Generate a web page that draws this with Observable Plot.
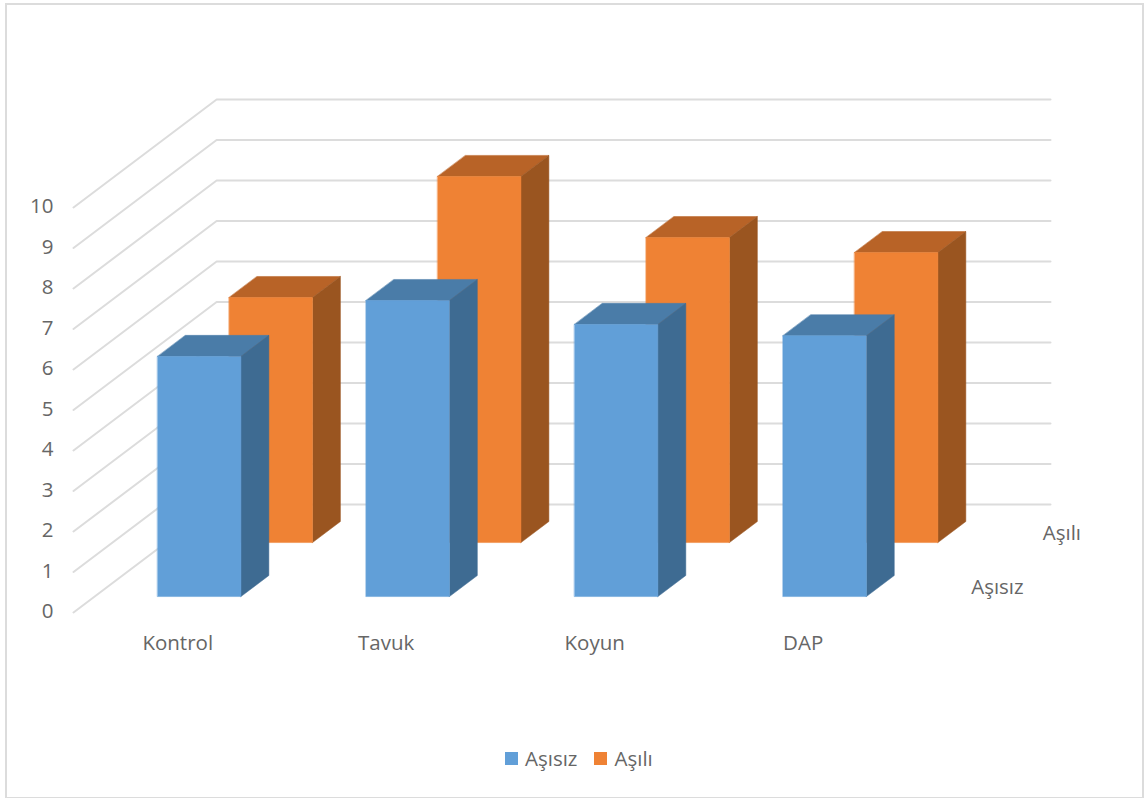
<!DOCTYPE html>
<html lang="tr">
<head>
<meta charset="utf-8">
<title>Aşısız ve Aşılı</title>
<script src="https://cdn.jsdelivr.net/npm/d3@7"></script>
<script src="https://cdn.jsdelivr.net/npm/@observablehq/plot@0.6"></script>
<style>
  html, body { margin: 0; padding: 0; background: #fff; }
  #chart { position: relative; width: 1144px; height: 798px; overflow: hidden; font-family: "Open Sans", sans-serif; }
  #chart svg { position: absolute; left: 0; top: 0; }
  #border { position: absolute; left: 5px; top: 3px; width: 1135px; height: 792px; border: 2px solid #dcdcdc; box-sizing: content-box; }
  #legend { position: absolute; left: 505px; top: 745px; display: flex; align-items: center; height: 26px; font-size: 20.5px; color: #666666; }
  #legend i { display: inline-block; width: 13px; height: 13px; margin-right: 7px; }
  #legend span { margin-right: 17px; }
</style>
</head>
<body>
<div id="chart"><div id="border"></div></div>
<script>
const categories = ["Kontrol", "Tavuk", "Koyun", "DAP"];
const seriesNames = ["Aşısız", "Aşılı"];
const asisiz = [5.93, 7.31, 6.72, 6.44];
const asili = [6.05, 9.04, 7.53, 7.16];
const valueTicks = [0, 1, 2, 3, 4, 5, 6, 7, 8, 9, 10];

// Oblique projection: how far one full unit of depth shifts a point on screen,
// measured in category widths (x) and in value units (y).
const depthX = 0.6865;
const depthY = 2.667;
const barInset = 0.302, barWidth = 0.4;     // share of a category band
const depthCentre = [0.245, 0.745], depthThickness = 0.195;  // per series

const project = (cat, depth, value) => ({x: cat + depth * depthX, y: value + depth * depthY});

const palette = [
  {front: "#619fd8", side: "#3e6b92", top: "#4a7ca8"},
  {front: "#ef8234", side: "#9a5520", top: "#b86327"}
];

// Walls: one polyline per tick, running up the side wall and along the back wall.
const grid = valueTicks.flatMap((v) => [
  {tick: v, ...project(0, 0, v)},
  {tick: v, ...project(0, 1, v)},
  {tick: v, ...project(categories.length, 1, v)}
]);

// The three visible faces of a bar, each a closed outline.
function faces(values, s) {
  const d0 = depthCentre[s] - depthThickness / 2, d1 = d0 + depthThickness;
  const front = [], side = [], top = [];
  values.forEach((v, i) => {
    const a = i + barInset, b = a + barWidth;
    const key = categories[i];
    front.push(...[[a, d0, 0], [b, d0, 0], [b, d0, v], [a, d0, v]].map((p) => ({key, ...project(...p)})));
    side.push(...[[b, d0, 0], [b, d1, 0], [b, d1, v], [b, d0, v]].map((p) => ({key, ...project(...p)})));
    top.push(...[[a, d0, v], [b, d0, v], [b, d1, v], [a, d1, v]].map((p) => ({key, ...project(...p)})));
  });
  return {front, side, top};
}

const faceMark = (pts, color) => Plot.line(pts, {
  x: "x", y: "y", z: "key", fill: color, stroke: color, strokeWidth: 0.5, curve: "linear-closed"
});

// Bars further back are painted first.
const barMarks = [1, 0].flatMap((s) => {
  const f = faces(s === 0 ? asisiz : asili, s);
  return [faceMark(f.top, palette[s].top), faceMark(f.side, palette[s].side), faceMark(f.front, palette[s].front)];
});

const depthLabels = seriesNames.map((name, s) => ({name, ...project(categories.length, depthCentre[s] + 0.005, 0)}));
const textColor = "#666666";

const plot = Plot.plot({
  width: 1144,
  height: 735,
  marginLeft: 73,
  marginRight: 94,
  marginTop: 99,
  marginBottom: 123,
  x: {domain: [0, categories.length + depthX], axis: null},
  y: {domain: [0, 10 + depthY], axis: null},
  style: {fontFamily: "'Open Sans', sans-serif", background: "transparent"},
  marks: [
    Plot.line(grid, {x: "x", y: "y", z: "tick", stroke: "#dcdcdc", strokeWidth: 2, curve: "linear"}),
    ...barMarks,
    Plot.axisY({
      ticks: valueTicks, tickSize: 0, tickPadding: 20, label: null, fontSize: 20.5,
      color: textColor, dy: -1, tickFormat: (d) => String(d)
    }),
    Plot.axisX({
      ticks: categories.map((_, i) => i + 0.5), tickSize: 0, tickPadding: 23, label: null, fontSize: 20.5,
      color: textColor, tickFormat: (d) => categories[Math.floor(d)]
    }),
    Plot.text(depthLabels, {
      x: "x", y: "y", text: "name", textAnchor: "start", dx: 28, dy: 2, fontSize: 20.5, fill: textColor
    })
  ]
});

const chart = document.getElementById("chart");
chart.append(plot);

// Legend below the plotting area.
const legend = document.createElement("div");
legend.id = "legend";
seriesNames.forEach((name, s) => {
  const swatch = document.createElement("i");
  swatch.style.background = palette[s].front;
  const label = document.createElement("span");
  label.textContent = name;
  legend.append(swatch, label);
});
chart.append(legend);
</script>
</body>
</html>
